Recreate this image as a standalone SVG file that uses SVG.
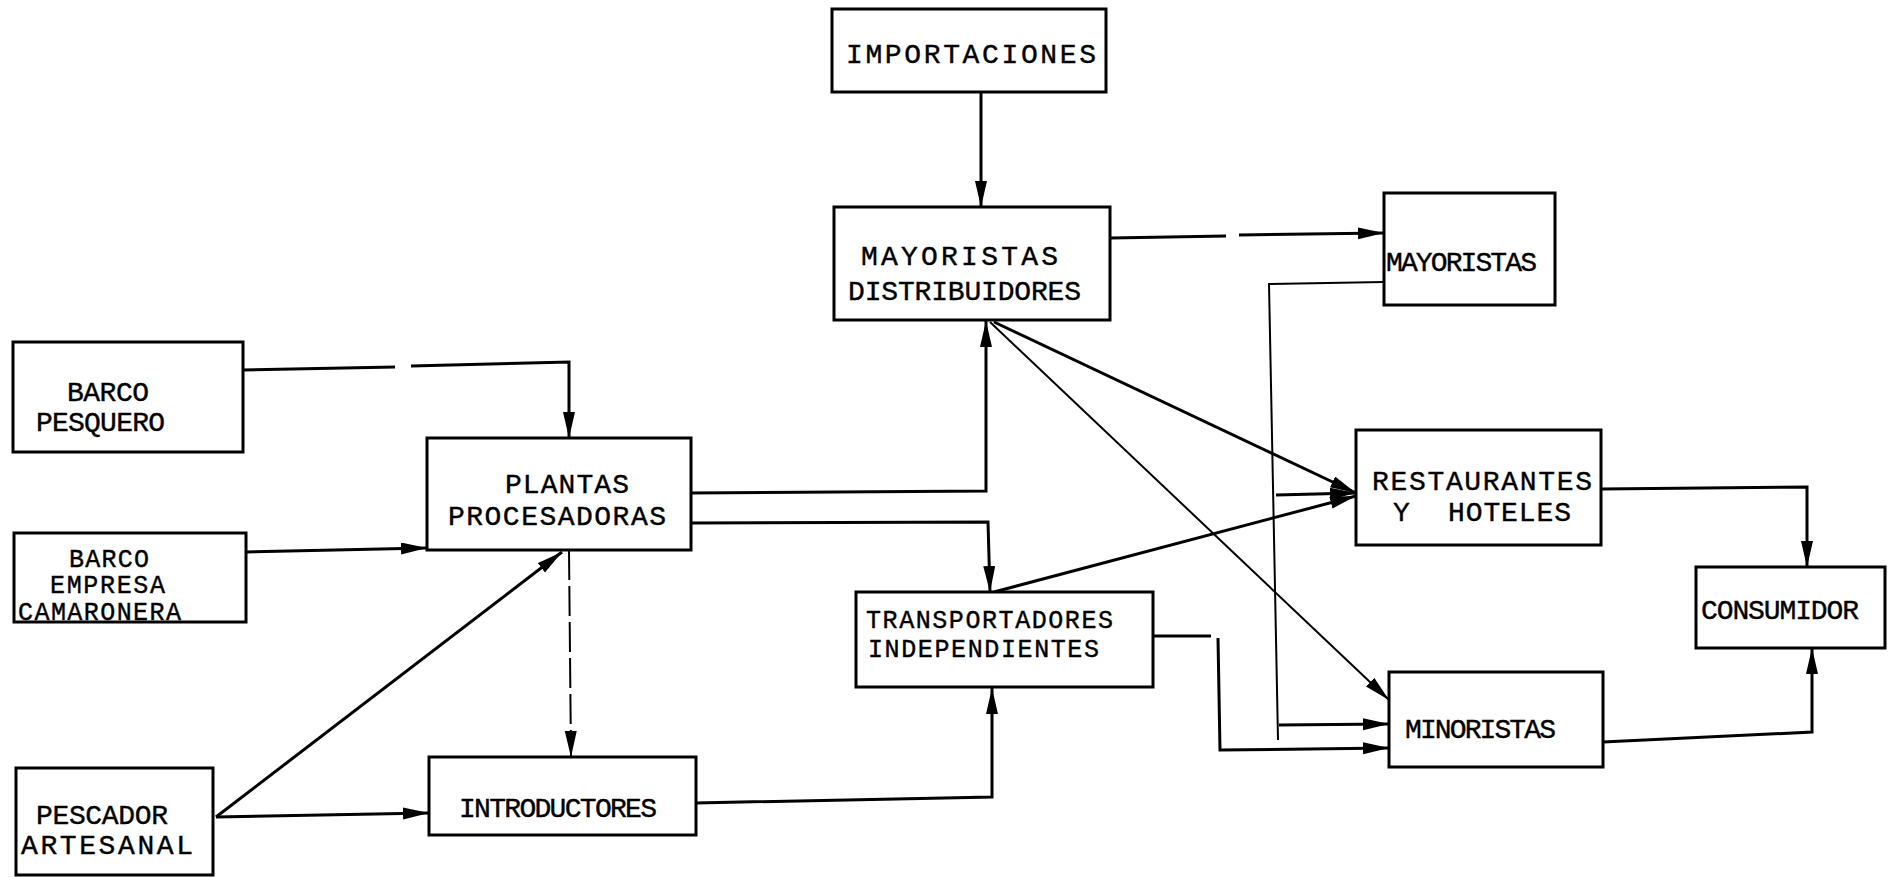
<svg xmlns="http://www.w3.org/2000/svg" width="1891" height="877" viewBox="0 0 1891 877">
<style>
.box{fill:#fff;stroke:#000;stroke-width:3}
.t{font-family:"Liberation Mono","DejaVu Sans Mono",monospace;font-size:28px;fill:#000;stroke:#000;stroke-width:0.4;lengthAdjust:spacingAndGlyphs}
.s{font-size:25px}
.c{fill:none;stroke:#000;stroke-width:3}
.thin{fill:none;stroke:#000;stroke-width:2}
.dash{fill:none;stroke:#000;stroke-width:2;stroke-dasharray:30 6}
</style>
<defs>
<marker id="ah" markerUnits="userSpaceOnUse" markerWidth="28" markerHeight="14" refX="26" refY="6" orient="auto">
<path d="M0,0 L26,6 L0,12 z" fill="#000"/>
</marker>
</defs>
<rect width="1891" height="877" fill="#fff"/>
<g id="connectors">
<path class="c" d="M981,92 L981,207" marker-end="url(#ah)"/>
<path class="c" d="M1111,238 L1226,236"/>
<path class="c" d="M1239,235 L1384,233" marker-end="url(#ah)"/>
<path class="thin" d="M1384,282 L1269,284 L1278,740"/>
<path class="c" d="M1276,495 L1356,493" marker-end="url(#ah)"/>
<path class="c" d="M1279,725 L1389,724" marker-end="url(#ah)"/>
<path class="c" d="M243,370 L395,367"/>
<path class="c" d="M411,366 L569,362 L569,438" marker-end="url(#ah)"/>
<path class="c" d="M246,552 L427,548" marker-end="url(#ah)"/>
<path class="c" d="M216,817 L562,552" marker-end="url(#ah)"/>
<path class="c" d="M216,817 L429,813" marker-end="url(#ah)"/>
<path class="dash" d="M569,550 L571,757" marker-end="url(#ah)"/>
<path class="c" d="M691,493 L986,491 L986,321" marker-end="url(#ah)"/>
<path class="c" d="M691,523 L988,522 L990,592" marker-end="url(#ah)"/>
<path class="c" d="M696,803 L992,797 L992,688" marker-end="url(#ah)"/>
<path class="c" d="M994,322 L1356,493" marker-end="url(#ah)"/>
<path class="thin" d="M990,322 L1389,700" marker-end="url(#ah)"/>
<path class="c" d="M994,592 L1356,496" marker-end="url(#ah)"/>
<path class="c" d="M1153,636 L1211,636"/>
<path class="c" d="M1218,638 L1220,750 L1389,748" marker-end="url(#ah)"/>
<path class="c" d="M1601,489 L1807,487 L1807,567" marker-end="url(#ah)"/>
<path class="c" d="M1603,742 L1812,732 L1812,648" marker-end="url(#ah)"/>
</g>
<g id="importaciones"><rect class="box" x="832" y="9" width="274" height="83"/><text class="t" x="846" y="63" textLength="250">IMPORTACIONES</text></g>
<g id="mayoristas-distribuidores"><rect class="box" x="834" y="207" width="276" height="113"/><text class="t" x="861" y="265" textLength="197">MAYORISTAS</text><text class="t" x="848" y="300" textLength="233">DISTRIBUIDORES</text></g>
<g id="mayoristas"><rect class="box" x="1384" y="193" width="171" height="112"/><text class="t" x="1386" y="271" textLength="151">MAYORISTAS</text></g>
<g id="barco-pesquero"><rect class="box" x="13" y="342" width="230" height="110"/><text class="t" x="67" y="401" textLength="82">BARCO</text><text class="t" x="36" y="431" textLength="129">PESQUERO</text></g>
<g id="plantas"><rect class="box" x="427" y="438" width="264" height="112"/><text class="t" x="505" y="493" textLength="124">PLANTAS</text><text class="t" x="448" y="525" textLength="218">PROCESADORAS</text></g>
<g id="barco-empresa"><rect class="box" x="14" y="533" width="232" height="89"/><text class="t s" x="69" y="567" textLength="80">BARCO</text><text class="t s" x="50" y="593" textLength="115">EMPRESA</text><text class="t s" x="18" y="620" textLength="163">CAMARONERA</text></g>
<g id="pescador"><rect class="box" x="16" y="768" width="197" height="107"/><text class="t" x="36" y="824" textLength="132">PESCADOR</text><text class="t" x="21" y="854" textLength="172">ARTESANAL</text></g>
<g id="introductores"><rect class="box" x="429" y="757" width="267" height="78"/><text class="t" x="459" y="817" textLength="198">INTRODUCTORES</text></g>
<g id="transportadores"><rect class="box" x="856" y="592" width="297" height="95"/><text class="t s" x="866" y="628" textLength="247">TRANSPORTADORES</text><text class="t s" x="868" y="657" textLength="231">INDEPENDIENTES</text></g>
<g id="restaurantes"><rect class="box" x="1356" y="430" width="245" height="115"/><text class="t" x="1372" y="490" textLength="220">RESTAURANTES</text><text class="t" x="1393" y="521" xml:space="preserve">Y  <tspan x="1448" textLength="123">HOTELES</tspan></text></g>
<g id="consumidor"><rect class="box" x="1696" y="567" width="189" height="81"/><text class="t" x="1701" y="619" textLength="158">CONSUMIDOR</text></g>
<g id="minoristas"><rect class="box" x="1389" y="672" width="214" height="95"/><text class="t" x="1405" y="738" textLength="151">MINORISTAS</text></g>
</svg>
